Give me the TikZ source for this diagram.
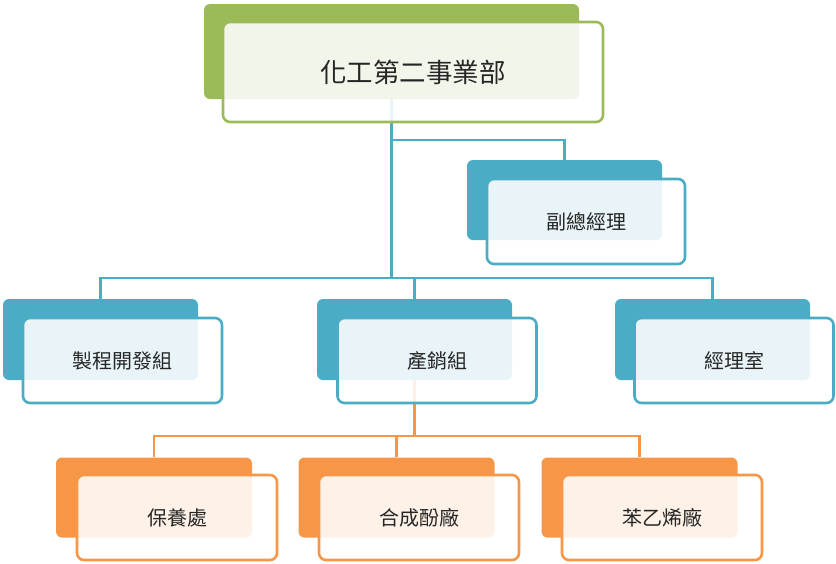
\documentclass[tikz,border=0pt]{standalone}
\usepackage{fontspec}
\setmainfont{Noto Sans CJK TC}
\definecolor{cgreen}{HTML}{9BBB59}
\definecolor{cblue}{HTML}{4BACC6}
\definecolor{corange}{HTML}{F79646}
\definecolor{txt}{HTML}{262626}
\tikzset{
  back/.style={rectangle, rounded corners=6pt, fill=#1, minimum width=195pt, minimum height=81pt, inner sep=0pt},
  front/.style={rectangle, rounded corners=7pt, draw=#1, line width=2.6pt, fill=white, fill opacity=0.88, text opacity=1, draw opacity=1, minimum width=199pt, minimum height=85pt, inner sep=0pt, font=\fontsize{20}{24}\selectfont, text=txt},
  conn/.style={line width=2.6pt, draw=#1},
}
\begin{document}
\begin{tikzpicture}[x=1pt,y=-1pt]
\useasboundingbox (0,0) rectangle (836,563);
% back boxes
\node[back=cgreen, minimum width=375pt, minimum height=95pt] (topB) at (391.5,51.5) {};
\node[back=cblue, minimum height=80pt] (vpB) at (564.5,200) {};
\node[back=cblue] (d1B) at (100.5,339.5) {};
\node[back=cblue] (d2B) at (414.5,339.5) {};
\node[back=cblue] (d3B) at (712.5,339.5) {};
\node[back=corange, minimum width=196pt, minimum height=80pt] (o1B) at (154,497.5) {};
\node[back=corange, minimum width=196pt, minimum height=80pt] (o2B) at (396.5,497.5) {};
\node[back=corange, minimum width=196pt, minimum height=80pt] (o3B) at (639.5,497.5) {};
% bus levels
\coordinate (busT) at (0,140);
\coordinate (busM) at (0,278);
\coordinate (busO) at (0,436);
% connectors
\draw[conn=cblue] (topB.south) |- (vpB.north |- busT) -- (vpB.north);
\draw[conn=cblue] (topB.south) |- (d1B.north |- busM) -- (d1B.north);
\draw[conn=cblue] (topB.south) |- (d2B.north |- busM) -- (d2B.north);
\draw[conn=cblue] (topB.south) |- (d3B.north |- busM) -- (d3B.north);
\draw[conn=corange] (d2B.south) |- (o1B.north |- busO) -- (o1B.north);
\draw[conn=corange] (d2B.south) |- (o2B.north |- busO) -- (o2B.north);
\draw[conn=corange] (d2B.south) |- (o3B.north |- busO) -- (o3B.north);
% front boxes
\node[front=cgreen, minimum width=380pt, minimum height=100pt, font=\fontsize{26.5}{30}\selectfont] (topF) at (413,72) {化工第二事業部};
\node[front=cblue, minimum width=198pt] (vpF) at (586,221.5) {副總經理};
\node[front=cblue] (d1F) at (122.5,360.5) {製程開發組};
\node[front=cblue] (d2F) at (437,360.5) {產銷組};
\node[front=cblue] (d3F) at (734,360.5) {經理室};
\node[front=corange, minimum width=200pt] (o1F) at (177,517.5) {保養處};
\node[front=corange, minimum width=200pt] (o2F) at (419,517.5) {合成酚廠};
\node[front=corange, minimum width=200pt] (o3F) at (662,517.5) {苯乙烯廠};
\end{tikzpicture}
\end{document}
